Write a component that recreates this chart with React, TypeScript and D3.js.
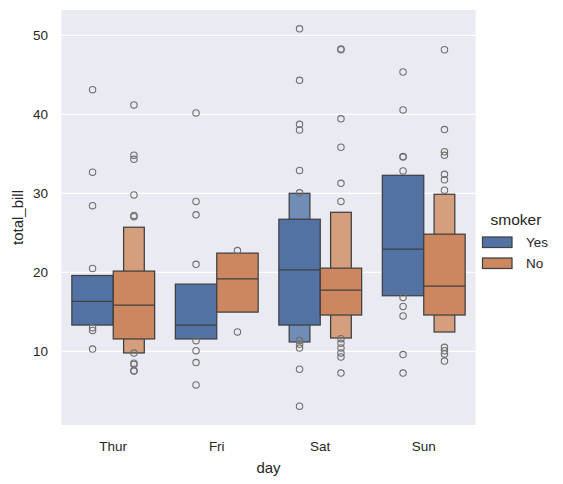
import React from "react";
import * as d3 from "d3";

// Categories and hue levels
const days = ["Thur", "Fri", "Sat", "Sun"];
const smokers = ["Yes", "No"];
const yTicks = [10, 20, 30, 40, 50];

// Letter-value boxes per day: innermost box [low, high] and next level (null when absent)
const medianYes = [16.32, 13.33, 20.32, 22.93];
const boxYes: [number, number][] = [[13.33, 19.6], [11.57, 18.51], [13.33, 26.72], [17.04, 32.28]];
const outerYes: ([number, number] | null)[] = [null, null, [11.19, 30.0], null];

const medianNo = [15.86, 19.18, 17.76, 18.26];
const boxNo: [number, number][] = [[11.57, 20.16], [14.97, 22.43], [14.6, 20.53], [14.6, 24.83]];
const outerNo: ([number, number] | null)[] = [[9.8, 25.71], null, [11.69, 27.6], [12.45, 29.88]];

// Outlying bills per day
const fliersYes = [
  [43.11, 32.68, 28.44, 20.5, 13.0, 12.65, 10.29],
  [40.17, 28.97, 27.28, 21.01, 11.35, 10.09, 8.58, 5.75],
  [50.81, 44.3, 38.73, 38.01, 32.9, 30.06, 11.38, 10.89, 10.42, 7.74, 3.07],
  [45.35, 40.55, 34.65, 34.58, 32.83, 16.82, 15.69, 14.48, 9.6, 7.25],
];
const fliersNo = [
  [41.19, 34.83, 34.3, 29.8, 27.2, 27.05, 9.78, 8.51, 8.35, 7.56, 7.51],
  [22.75, 12.46],
  [48.27, 48.17, 39.42, 35.83, 31.27, 28.97, 11.61, 11.02, 10.43, 9.8, 9.29, 7.25],
  [48.17, 38.07, 35.26, 34.81, 32.4, 31.71, 30.4, 10.51, 10.09, 9.68, 8.77],
];

const mainColors: Record<string, string> = { Yes: "#5272a4", No: "#cc8760" };
const outerColors: Record<string, string> = { Yes: "#718cb6", No: "#d59e7c" };
const lineColor = "#3f3f3f";
const flierColor = "#707070";
const font = "'Liberation Sans', Arial, Helvetica, sans-serif";

const W = 563;
const H = 484;
const plot = { left: 61.5, right: 475.5, top: 10, bottom: 425 };

export default function App() {
  const x = d3.scaleBand<string>().domain(days).range([plot.left, plot.right]).padding(0);
  const y = d3.scaleLinear().domain([0.683, 53.197]).range([plot.bottom, plot.top]);
  const hue = d3
    .scaleBand<string>()
    .domain(smokers)
    .range([-0.4 * x.bandwidth(), 0.4 * x.bandwidth()])
    .padding(0);

  const series = [
    { key: "Yes", med: medianYes, box: boxYes, outer: outerYes, fliers: fliersYes },
    { key: "No", med: medianNo, box: boxNo, outer: outerNo, fliers: fliersNo },
  ];

  const fullW = hue.bandwidth();

  return (
    <svg width={W} height={H} style={{ display: "block", position: "absolute", left: 0, top: 0 }}>
      <rect x={0} y={0} width={W} height={H} fill="#ffffff" />
      <rect
        x={plot.left}
        y={plot.top}
        width={plot.right - plot.left}
        height={plot.bottom - plot.top}
        fill="#eaeaf2"
      />
      {yTicks.map((t) => (
        <line
          key={"g" + t}
          x1={plot.left}
          x2={plot.right}
          y1={y(t)}
          y2={y(t)}
          stroke="#ffffff"
          strokeWidth={1.25}
        />
      ))}

      {series.map((s) =>
        days.map((d, i) => {
          const cx = (x(d) as number) + x.bandwidth() / 2 + (hue(s.key) as number) + fullW / 2;
          const outer = s.outer[i];
          const [lo, hi] = s.box[i];
          return (
            <g key={s.key + d}>
              {outer && (
                <rect
                  x={cx - fullW / 4}
                  width={fullW / 2}
                  y={y(outer[1])}
                  height={y(outer[0]) - y(outer[1])}
                  fill={outerColors[s.key]}
                  stroke={lineColor}
                  strokeWidth={1.25}
                />
              )}
              <rect
                x={cx - fullW / 2}
                width={fullW}
                y={y(hi)}
                height={y(lo) - y(hi)}
                fill={mainColors[s.key]}
                stroke={lineColor}
                strokeWidth={1.25}
              />
              <line
                x1={cx - fullW / 2}
                x2={cx + fullW / 2}
                y1={y(s.med[i])}
                y2={y(s.med[i])}
                stroke={lineColor}
                strokeWidth={1.25}
              />
              {s.fliers[i].map((v, j) => (
                <circle
                  key={j}
                  cx={cx}
                  cy={y(v)}
                  r={3.2}
                  fill="none"
                  stroke={flierColor}
                  strokeWidth={1.1}
                />
              ))}
            </g>
          );
        })
      )}

      {yTicks.map((t) => (
        <text
          key={"yt" + t}
          x={48}
          y={y(t)}
          textAnchor="end"
          dominantBaseline="central"
          fontFamily={font}
          fontSize={13.5}
          fill="#262626"
        >
          {t}
        </text>
      ))}
      {days.map((d) => (
        <text
          key={"xt" + d}
          x={(x(d) as number) + x.bandwidth() / 2}
          y={446}
          textAnchor="middle"
          dominantBaseline="central"
          fontFamily={font}
          fontSize={13.5}
          fill="#262626"
        >
          {d}
        </text>
      ))}
      <text
        x={(plot.left + plot.right) / 2}
        y={467}
        textAnchor="middle"
        dominantBaseline="central"
        fontFamily={font}
        fontSize={15}
        fill="#262626"
      >
        day
      </text>
      <text
        transform={`translate(17,${(plot.top + plot.bottom) / 2}) rotate(-90)`}
        textAnchor="middle"
        dominantBaseline="central"
        fontFamily={font}
        fontSize={15}
        fill="#262626"
      >
        total_bill
      </text>

      <text
        x={516}
        y={219.5}
        textAnchor="middle"
        dominantBaseline="central"
        fontFamily={font}
        fontSize={15.5}
        fill="#262626"
      >
        smoker
      </text>
      {smokers.map((s, i) => (
        <g key={"lg" + s} transform={`translate(0,${i * 21})`}>
          <rect x={482.5} y={237} width={29.5} height={10.5} fill={mainColors[s]} stroke={lineColor} strokeWidth={1.25} />
          <text
            x={526}
            y={242.5}
            dominantBaseline="central"
            fontFamily={font}
            fontSize={13.5}
            fill="#262626"
          >
            {s}
          </text>
        </g>
      ))}
    </svg>
  );
}
